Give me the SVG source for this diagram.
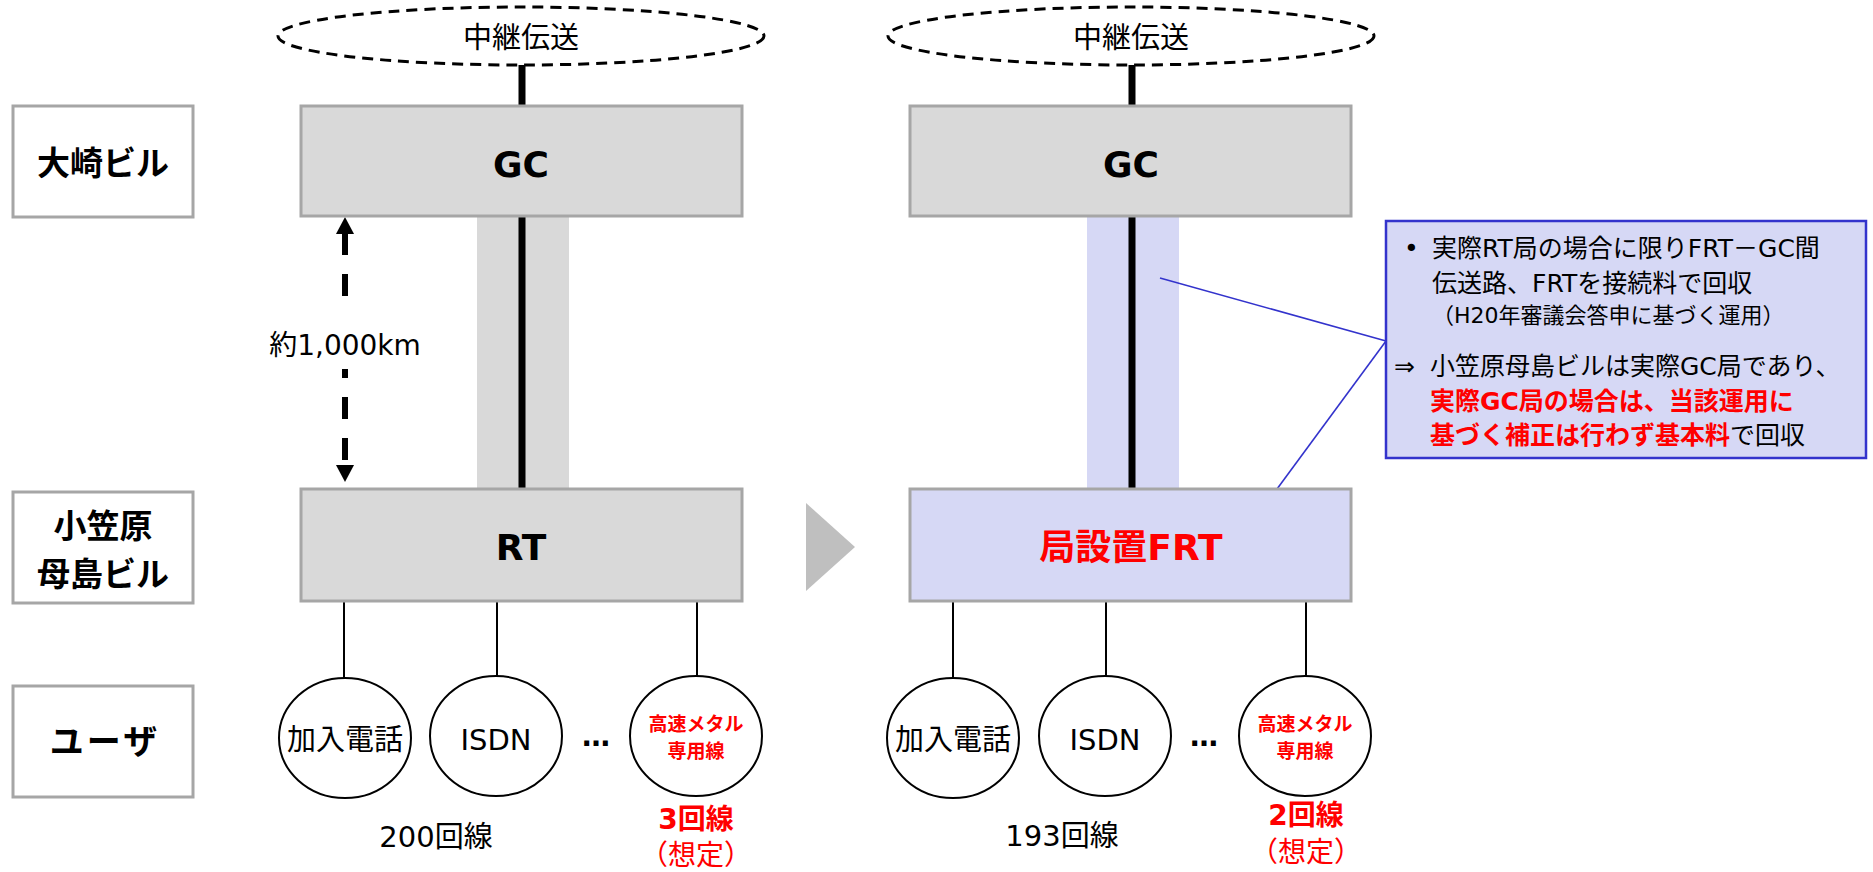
<svg xmlns="http://www.w3.org/2000/svg" width="1873" height="872" viewBox="0 0 1873 872">
<style>
.lbl{fill:#fff;stroke:#a6a6a6;stroke-width:3}
.gbox{fill:#d9d9d9;stroke:#a6a6a6;stroke-width:3}
.pbox{fill:#d6d8f5;stroke:#a6a6a6;stroke-width:3}
.usr{fill:#fff;stroke:#000;stroke-width:2}
.cloud{fill:#fff;stroke:#000;stroke-width:3;stroke-dasharray:11 7}
.t{font-family:"DejaVu Sans","Noto Sans CJK JP",sans-serif;fill:#000}
.b{font-weight:bold}
.r{fill:#ff0000}
.m{text-anchor:middle}
.thick{stroke:#000;stroke-width:7}
.thin{stroke:#000;stroke-width:2}
.call{stroke:#3333cc;stroke-width:1.6;fill:none}
</style>
<rect width="1873" height="872" fill="#fff"/>

<g id="label-osaki">
<rect class="lbl" x="13" y="106" width="180" height="111"/>
<text class="t b m" x="103" y="175" font-size="33">大崎ビル</text>
</g>
<g id="label-hahajima">
<rect class="lbl" x="13" y="492" width="180" height="111"/>
<text class="t b m" x="103" y="538" font-size="33">小笠原</text>
<text class="t b m" x="103" y="586" font-size="33">母島ビル</text>
</g>
<g id="label-user">
<rect class="lbl" x="13" y="686" width="180" height="111"/>
<text class="t b m" x="105" y="754" font-size="34" letter-spacing="3">ユーザ</text>
</g>

<g id="bands">
<rect x="477" y="216" width="92" height="273" fill="#d9d9d9"/>
<rect x="1087" y="216" width="92" height="273" fill="#d6d8f5"/>
</g>

<g id="connectors">
<line class="thick" x1="522" y1="64" x2="522" y2="106"/>
<line class="thick" x1="522" y1="216" x2="522" y2="489"/>
<line class="thick" x1="1132" y1="64" x2="1132" y2="106"/>
<line class="thick" x1="1132" y1="216" x2="1132" y2="489"/>
<line class="thin" x1="344" y1="602" x2="344" y2="679"/>
<line class="thin" x1="497" y1="602" x2="497" y2="676"/>
<line class="thin" x1="697" y1="602" x2="697" y2="677"/>
<line class="thin" x1="953" y1="602" x2="953" y2="679"/>
<line class="thin" x1="1106" y1="602" x2="1106" y2="676"/>
<line class="thin" x1="1306" y1="602" x2="1306" y2="677"/>
<line x1="345" y1="233" x2="345" y2="466" stroke="#000" stroke-width="6" stroke-dasharray="22 19"/>
<polygon points="345,217 336,234 354,234" fill="#000"/>
<polygon points="345,482 336,465 354,465" fill="#000"/>
<line class="call" x1="1160" y1="278" x2="1386" y2="341"/>
<line class="call" x1="1386" y1="341" x2="1277" y2="489"/>
</g>

<g id="dist-label">
<rect x="266" y="314" width="158" height="55" fill="#fff"/>
<text class="t m" x="345" y="355" font-size="28">約1,000km</text>
</g>

<g id="relay-left">
<ellipse class="cloud" cx="521" cy="36" rx="243" ry="29"/>
<text class="t m" x="521" y="48" font-size="29">中継伝送</text>
</g>
<g id="relay-right">
<ellipse class="cloud" cx="1131" cy="36" rx="243" ry="29"/>
<text class="t m" x="1131" y="48" font-size="29">中継伝送</text>
</g>

<g id="gc-left">
<rect class="gbox" x="301" y="106" width="441" height="110"/>
<text class="t b m" x="521" y="177" font-size="36">GC</text>
</g>
<g id="gc-right">
<rect class="gbox" x="910" y="106" width="441" height="110"/>
<text class="t b m" x="1131" y="177" font-size="36">GC</text>
</g>
<g id="rt-left">
<rect class="gbox" x="301" y="489" width="441" height="112"/>
<text class="t b m" x="521" y="560" font-size="36">RT</text>
</g>
<g id="frt-right">
<rect class="pbox" x="910" y="489" width="441" height="112"/>
<text class="t b m r" x="1131" y="560" font-size="36">局設置FRT</text>
</g>

<g id="arrow">
<polygon points="806,503 855,547 806,591" fill="#bfbfbf"/>
</g>

<g id="users-left">
<ellipse class="usr" cx="345" cy="738" rx="66" ry="60"/>
<text class="t m" x="345" y="750" font-size="29">加入電話</text>
<ellipse class="usr" cx="496" cy="736" rx="66" ry="60"/>
<text class="t m" x="496" y="750" font-size="29">ISDN</text>
<text class="t b m" x="596" y="746" font-size="28">…</text>
<ellipse class="usr" cx="696" cy="736" rx="66" ry="60"/>
<text class="t b m r" x="696" y="731" font-size="19">高速メタル</text>
<text class="t b m r" x="696" y="758" font-size="19">専用線</text>
<text class="t m" x="436" y="847" font-size="29">200回線</text>
<text class="t b m r" x="696" y="829" font-size="28">3回線</text>
<text class="t m r" x="696" y="865" font-size="28">（想定）</text>
</g>

<g id="users-right">
<ellipse class="usr" cx="953" cy="738" rx="66" ry="60"/>
<text class="t m" x="953" y="750" font-size="29">加入電話</text>
<ellipse class="usr" cx="1105" cy="736" rx="66" ry="60"/>
<text class="t m" x="1105" y="750" font-size="29">ISDN</text>
<text class="t b m" x="1204" y="746" font-size="28">…</text>
<ellipse class="usr" cx="1305" cy="736" rx="66" ry="60"/>
<text class="t b m r" x="1305" y="731" font-size="19">高速メタル</text>
<text class="t b m r" x="1305" y="758" font-size="19">専用線</text>
<text class="t m" x="1062" y="846" font-size="29">193回線</text>
<text class="t b m r" x="1306" y="825" font-size="28">2回線</text>
<text class="t m r" x="1306" y="862" font-size="28">（想定）</text>
</g>

<g id="callout">
<rect x="1386" y="221" width="480" height="237" fill="#d6d8f5" stroke="#3333cc" stroke-width="2.5"/>
<text class="t" x="1404" y="257" font-size="25">•</text>
<text class="t" x="1432" y="257" font-size="25">実際RT局の場合に限りFRT－GC間</text>
<text class="t" x="1432" y="292" font-size="25">伝送路、FRTを接続料で回収</text>
<text class="t" x="1432" y="323" font-size="22">（H20年審議会答申に基づく運用）</text>
<text class="t" x="1394" y="375" font-size="25">⇒</text>
<text class="t" x="1430" y="375" font-size="25">小笠原母島ビルは実際GC局であり、</text>
<text class="t b r" x="1430" y="410" font-size="25">実際GC局の場合は、当該運用に</text>
<text class="t" x="1430" y="444" font-size="25"><tspan class="b r">基づく補正は行わず基本料</tspan>で回収</text>
</g>
</svg>
